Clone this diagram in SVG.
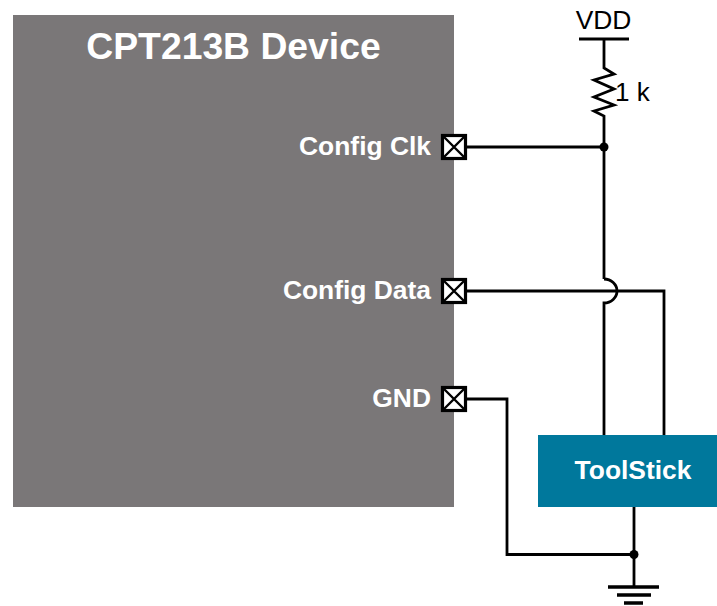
<svg xmlns="http://www.w3.org/2000/svg" width="717" height="606" viewBox="0 0 717 606">
<style>
.w{fill:none;stroke:#000;stroke-width:2.8;stroke-linecap:butt;stroke-linejoin:miter}
.pin{fill:#fff;stroke:#000;stroke-width:3.2}
.x{fill:none;stroke:#000;stroke-width:2.4}
text{font-family:"Liberation Sans",Arial,sans-serif}
.l{font-size:26.400px;font-weight:bold;fill:#fff;text-anchor:end}
</style>
<rect width="717" height="606" fill="#fff"/>
<g id="device">
<rect x="13" y="15" width="441" height="492" fill="#7a7778"/>
<text x="233.500" y="59" font-size="37.300" font-weight="bold" fill="#fff" text-anchor="middle">CPT213B Device</text>
</g>
<g id="connectors">
<path class="w" d="M604 39V68L614 74 594 80 614 89 594 97 614 105 594 111 604 116V279"/>
<path class="w" d="M604 279A13 12 0 0 1 604 303V436"/>
<path class="w" d="M466 147H604"/>
<path class="w" d="M466 291H664V436"/>
<path class="w" d="M466 399H507V554.500H634"/>
<path class="w" d="M634 507V587"/>
<circle cx="604" cy="147" r="4.500" fill="#000"/>
<circle cx="634" cy="554.500" r="4.500" fill="#000"/>
</g>
<g id="vdd">
<path d="M579 39H629" stroke="#000" stroke-width="3" fill="none"/>
<text x="603.500" y="29" font-size="26.400" fill="#000" text-anchor="middle">VDD</text>
</g>
<g id="resistor-label"><text x="615" y="101" font-size="26" fill="#000">1 k</text></g>
<g id="pin-clk">
<rect class="pin" x="442.500" y="135.500" width="23" height="23"/>
<path class="x" d="M443 136L465 158M465 136L443 158"/>
<text class="l" x="431" y="155">Config Clk</text>
</g>
<g id="pin-data">
<rect class="pin" x="442.500" y="279.500" width="23" height="23"/>
<path class="x" d="M443 280L465 302M465 280L443 302"/>
<text class="l" x="431" y="299">Config Data</text>
</g>
<g id="pin-gnd">
<rect class="pin" x="442.500" y="387.500" width="23" height="23"/>
<path class="x" d="M443 388L465 410M465 388L443 410"/>
<text class="l" x="431" y="407">GND</text>
</g>
<g id="toolstick">
<rect x="538" y="435" width="179" height="72" fill="#00789c"/>
<text x="633" y="479" font-size="26.400" font-weight="bold" fill="#fff" text-anchor="middle">ToolStick</text>
</g>
<g id="ground">
<path d="M608 587H659M617 595H651M624 603H643" stroke="#000" stroke-width="3.400" fill="none"/>
</g>
</svg>
